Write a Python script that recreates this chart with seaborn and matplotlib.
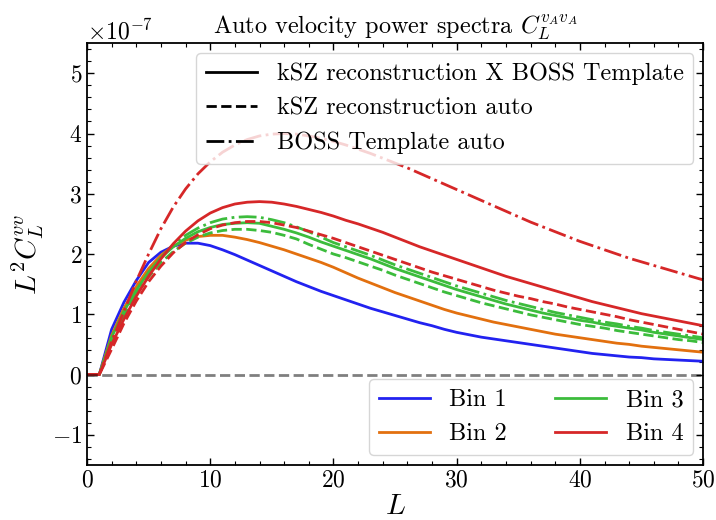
import numpy as np
import pandas as pd
import matplotlib
matplotlib.use("Agg")
import matplotlib.pyplot as plt
from matplotlib.lines import Line2D
import seaborn as sns

# Multipoles L = 0..50
ell = list(range(0, 51))
SCALE = 1e-7

# L^2 C_L^{vv} in units of 1e-7
bin1_cross = [0, 0, 0.75, 1.20, 1.56, 1.86, 2.03, 2.13, 2.18, 2.18, 2.14, 2.07, 1.99, 1.90, 1.81,
              1.72, 1.63, 1.54, 1.46, 1.38, 1.31, 1.24, 1.17, 1.10, 1.04, 0.98, 0.92, 0.86, 0.81,
              0.75, 0.70, 0.66, 0.62, 0.59, 0.56, 0.53, 0.50, 0.47, 0.44, 0.41, 0.38, 0.35, 0.33,
              0.31, 0.29, 0.28, 0.26, 0.25, 0.24, 0.23, 0.22]
bin2_cross = [0, 0, 0.65, 1.10, 1.46, 1.76, 1.98, 2.13, 2.23, 2.29, 2.31, 2.31, 2.28, 2.24, 2.19,
              2.13, 2.07, 2.00, 1.93, 1.86, 1.78, 1.69, 1.60, 1.52, 1.44, 1.36, 1.29, 1.22, 1.15,
              1.08, 1.02, 0.97, 0.92, 0.87, 0.83, 0.79, 0.75, 0.71, 0.67, 0.64, 0.61, 0.58, 0.55,
              0.52, 0.50, 0.47, 0.45, 0.43, 0.41, 0.39, 0.37]
bin3_cross = [0, 0, 0.62, 1.05, 1.40, 1.70, 1.94, 2.12, 2.26, 2.37, 2.44, 2.49, 2.51, 2.52, 2.51,
              2.46, 2.41, 2.35, 2.28, 2.20, 2.13, 2.06, 1.99, 1.92, 1.84, 1.76, 1.69, 1.62, 1.55,
              1.48, 1.41, 1.35, 1.29, 1.23, 1.17, 1.12, 1.07, 1.02, 0.98, 0.94, 0.90, 0.87, 0.83,
              0.80, 0.77, 0.74, 0.70, 0.67, 0.64, 0.61, 0.58]
bin3_ksz = [0, 0, 0.55, 0.98, 1.33, 1.62, 1.86, 2.04, 2.18, 2.28, 2.35, 2.39, 2.41, 2.41, 2.39,
            2.36, 2.31, 2.25, 2.16, 2.08, 2.00, 1.94, 1.87, 1.80, 1.73, 1.65, 1.58, 1.51, 1.44,
            1.37, 1.31, 1.25, 1.19, 1.14, 1.09, 1.04, 0.99, 0.95, 0.91, 0.87, 0.83, 0.80, 0.77,
            0.73, 0.70, 0.67, 0.64, 0.61, 0.58, 0.56, 0.53]
bin3_boss = [0, 0, 0.58, 1.00, 1.37, 1.68, 1.94, 2.15, 2.31, 2.43, 2.52, 2.58, 2.61, 2.62, 2.61,
             2.57, 2.52, 2.45, 2.37, 2.28, 2.19, 2.12, 2.05, 1.98, 1.90, 1.82, 1.75, 1.68, 1.61,
             1.54, 1.47, 1.41, 1.35, 1.29, 1.23, 1.18, 1.13, 1.08, 1.03, 0.99, 0.95, 0.91, 0.87,
             0.84, 0.80, 0.77, 0.73, 0.70, 0.67, 0.64, 0.61]
bin4_cross = [0, 0, 0.50, 0.92, 1.30, 1.63, 1.92, 2.17, 2.38, 2.55, 2.68, 2.77, 2.83, 2.86, 2.87,
              2.86, 2.83, 2.79, 2.74, 2.69, 2.63, 2.56, 2.50, 2.43, 2.36, 2.28, 2.20, 2.12, 2.05,
              1.98, 1.91, 1.84, 1.77, 1.70, 1.63, 1.57, 1.51, 1.45, 1.39, 1.33, 1.27, 1.21, 1.16,
              1.11, 1.06, 1.01, 0.97, 0.93, 0.89, 0.85, 0.81]
bin4_ksz = [0, 0, 0.42, 0.85, 1.22, 1.54, 1.80, 2.02, 2.19, 2.32, 2.42, 2.48, 2.52, 2.54, 2.54,
            2.52, 2.48, 2.44, 2.38, 2.32, 2.26, 2.19, 2.12, 2.05, 1.98, 1.91, 1.84, 1.77, 1.70,
            1.64, 1.58, 1.52, 1.46, 1.40, 1.35, 1.30, 1.26, 1.21, 1.17, 1.12, 1.08, 1.04, 1.00,
            0.96, 0.91, 0.87, 0.83, 0.79, 0.75, 0.71, 0.67]
bin4_boss = [0, 0, 0.55, 1.05, 1.55, 2.00, 2.42, 2.78, 3.08, 3.33, 3.53, 3.69, 3.81, 3.90, 3.96,
             3.99, 4.00, 3.99, 3.96, 3.92, 3.87, 3.81, 3.74, 3.67, 3.59, 3.51, 3.43, 3.34, 3.25,
             3.16, 3.07, 2.98, 2.89, 2.80, 2.71, 2.62, 2.53, 2.45, 2.37, 2.29, 2.21, 2.14, 2.07,
             2.00, 1.93, 1.87, 1.81, 1.75, 1.69, 1.63, 1.57]

bin_labels = ["Bin 1", "Bin 2", "Bin 3", "Bin 4"]
style_labels = ["kSZ reconstruction X BOSS Template", "kSZ reconstruction auto", "BOSS Template auto"]

colors = {"Bin 1": "#2222f0", "Bin 2": "#e2700f", "Bin 3": "#3cbc3c", "Bin 4": "#d62728"}
linestyles = {style_labels[0]: "-", style_labels[1]: "--", style_labels[2]: "-."}

curves = [
    ("Bin 1", style_labels[0], bin1_cross),
    ("Bin 2", style_labels[0], bin2_cross),
    ("Bin 3", style_labels[0], bin3_cross),
    ("Bin 3", style_labels[1], bin3_ksz),
    ("Bin 3", style_labels[2], bin3_boss),
    ("Bin 4", style_labels[0], bin4_cross),
    ("Bin 4", style_labels[1], bin4_ksz),
    ("Bin 4", style_labels[2], bin4_boss),
]

plt.rcParams.update({
    "font.family": "serif",
    "font.serif": ["cmr10"],
    "mathtext.fontset": "cm",
    "axes.formatter.use_mathtext": True,
    "axes.unicode_minus": True,
    "font.size": 17,
    "xtick.direction": "in",
    "ytick.direction": "in",
    "xtick.top": True,
    "ytick.right": True,
    "xtick.minor.visible": True,
    "ytick.minor.visible": True,
    "xtick.major.size": 5,
    "ytick.major.size": 5,
    "xtick.minor.size": 2.8,
    "ytick.minor.size": 2.8,
    "xtick.major.width": 1.0,
    "ytick.major.width": 1.0,
    "xtick.minor.width": 0.8,
    "ytick.minor.width": 0.8,
    "axes.linewidth": 1.3,
})

fig, ax = plt.subplots(figsize=(7.16, 5.2), dpi=100)
fig.subplots_adjust(left=0.1215, right=0.982, top=0.917, bottom=0.106)

for b, s, vals in curves:
    df = pd.DataFrame({"L": ell, "val": np.array(vals) * SCALE})
    sns.lineplot(data=df, x="L", y="val", ax=ax, color=colors[b], linestyle=linestyles[s],
                 linewidth=2.0, legend=False)

ax.axhline(0, color="k", ls="--", lw=2.0, alpha=0.5, zorder=5)

ax.set_xlim(0, 50)
ax.set_ylim(-1.5e-7, 5.5e-7)
ax.xaxis.set_major_locator(matplotlib.ticker.MultipleLocator(10))
ax.xaxis.set_minor_locator(matplotlib.ticker.MultipleLocator(2))
ax.yaxis.set_major_locator(matplotlib.ticker.MultipleLocator(1e-7))
ax.yaxis.set_minor_locator(matplotlib.ticker.MultipleLocator(0.2e-7))
ax.tick_params(labelsize=17)
ax.yaxis.get_offset_text().set_fontsize(17)

ax.set_xlabel(r"$L$", fontsize=21, labelpad=1)
ax.set_ylabel(r"$L^2C_L^{vv}$", fontsize=21, labelpad=4)
ax.set_title(r"Auto velocity power spectra $C_L^{v_Av_A}$", fontsize=17.5)

style_handles = [Line2D([], [], color="k", lw=2.0, linestyle=linestyles[s]) for s in style_labels]
leg1 = ax.legend(style_handles, style_labels, loc="upper right", fontsize=17.5, handlelength=2.1,
                 borderaxespad=0.4)
ax.add_artist(leg1)

bin_handles = [Line2D([], [], color=colors[b], lw=2.0) for b in bin_labels]
ax.legend(bin_handles, bin_labels, loc="lower right", ncol=2, fontsize=17.5, handlelength=2.1,
          columnspacing=2.0, borderaxespad=0.4)

fig.savefig("out.png", dpi=100)
